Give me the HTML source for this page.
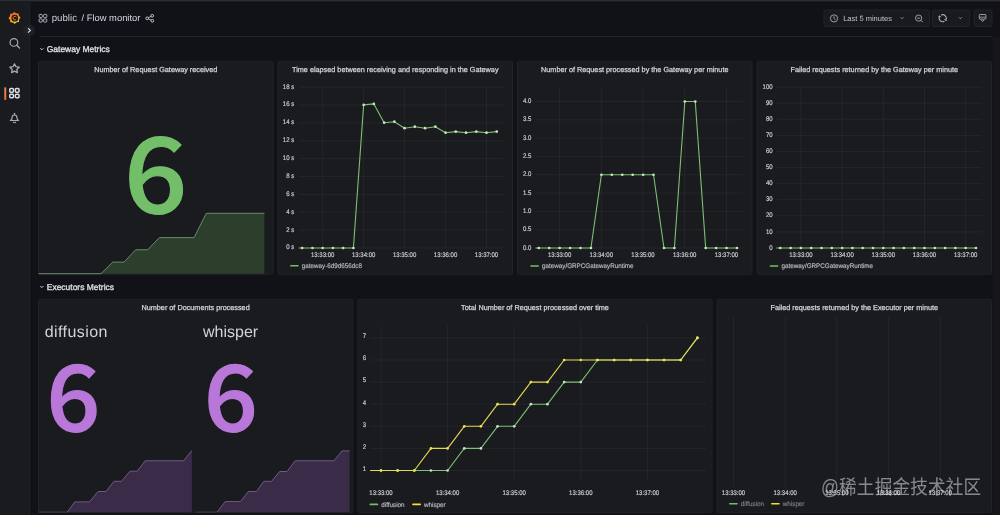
<!DOCTYPE html>
<html><head><meta charset="utf-8"><title>Flow monitor - Grafana</title>
<style>
html,body{margin:0;padding:0;background:#111217;width:1000px;height:515px;overflow:hidden}
svg{position:absolute;left:0;top:0;display:block;font-family:"Liberation Sans", Arial, sans-serif;text-rendering:geometricPrecision}
.stat{position:absolute;font-family:"Liberation Sans", Arial, sans-serif;white-space:nowrap}
.wm{position:absolute;left:821px;top:473.9px;font-family:"Liberation Sans","Noto Sans CJK SC",sans-serif;font-size:17.6px;line-height:25px;color:rgba(225,225,230,0.55);white-space:nowrap;letter-spacing:0.2px;transform:scaleY(1.12);transform-origin:0 5.4px}
</style></head>
<body>
<svg width="1000" height="515" viewBox="0 0 1000 515">
<rect x="0.00" y="0.00" width="1000.00" height="515.00" fill="#111217" />
<rect x="0.00" y="0.00" width="1000.00" height="1.10" fill="#2c2d32" />
<rect x="0.00" y="1.10" width="1000.00" height="0.80" fill="#1f2025" />
<rect x="992.50" y="37.00" width="7.50" height="515.00" fill="#16171b" />
<rect x="0.00" y="1.90" width="29.30" height="515.00" fill="#1a1b1f" />
<rect x="29.30" y="1.90" width="0.90" height="515.00" fill="#24252a" />
<rect x="38.50" y="61.30" width="234.50" height="213.00" fill="#1a1b1f" stroke="#212226" stroke-width="1" rx="1.5"/>
<rect x="278.00" y="61.30" width="234.50" height="213.00" fill="#1a1b1f" stroke="#212226" stroke-width="1" rx="1.5"/>
<rect x="517.50" y="61.30" width="234.50" height="213.00" fill="#1a1b1f" stroke="#212226" stroke-width="1" rx="1.5"/>
<rect x="757.01" y="61.30" width="234.50" height="213.00" fill="#1a1b1f" stroke="#212226" stroke-width="1" rx="1.5"/>
<rect x="38.50" y="299.30" width="314.34" height="213.40" fill="#1a1b1f" stroke="#212226" stroke-width="1" rx="1.5"/>
<rect x="357.84" y="299.30" width="354.25" height="213.40" fill="#1a1b1f" stroke="#212226" stroke-width="1" rx="1.5"/>
<rect x="717.09" y="299.30" width="274.42" height="213.40" fill="#1a1b1f" stroke="#212226" stroke-width="1" rx="1.5"/>
<rect x="39.80" y="36.10" width="952.00" height="0.90" fill="#25272b" />
<polygon points="38.50,273.70 101.00,273.70 112.80,262.10 124.20,262.10 135.60,249.80 147.60,249.80 159.40,237.60 194.10,237.60 206.30,213.30 264.40,213.30 264.40,273.70" fill="#2c3e2c"/>
<polyline points="38.50,273.70 101.00,273.70 112.80,262.10 124.20,262.10 135.60,249.80 147.60,249.80 159.40,237.60 194.10,237.60 206.30,213.30 264.40,213.30" stroke="#6a8a66" stroke-width="1.0" fill="none" stroke-linejoin="round" />
<text x="0" y="0" font-size="104.72" fill="#73bf69" stroke="#73bf69" stroke-width="1.2" stroke-linejoin="round" font-weight="500" font-family="Noto Sans CJK JP, Liberation Sans, sans-serif" transform="translate(124.12 213.04) scale(1.06 1)">6</text>
<polygon points="38.50,512.00 67.30,512.00 74.80,501.90 89.50,501.90 98.00,491.50 106.00,491.50 114.00,481.30 121.50,481.30 130.00,471.20 137.20,471.20 145.20,460.80 183.60,460.80 191.90,450.40 191.90,512.30 38.50,512.30" fill="#3a2c48"/>
<polyline points="38.50,512.00 67.30,512.00" stroke="#3c3b43" stroke-width="1.0" fill="none" stroke-linejoin="round" />
<polyline points="67.30,512.00 74.80,501.90 89.50,501.90 98.00,491.50 106.00,491.50 114.00,481.30 121.50,481.30 130.00,471.20 137.20,471.20 145.20,460.80 183.60,460.80 191.90,450.40" stroke="#6e5a84" stroke-width="1.0" fill="none" stroke-linejoin="round" />
<polygon points="195.90,512.00 217.20,512.00 225.20,501.60 240.40,501.60 248.40,491.50 256.40,491.50 263.90,481.30 271.60,481.30 279.60,471.50 287.10,471.50 295.10,460.80 334.00,460.80 342.00,450.90 349.50,450.90 349.50,512.30 195.90,512.30" fill="#3a2c48"/>
<polyline points="195.90,512.00 217.20,512.00" stroke="#3c3b43" stroke-width="1.0" fill="none" stroke-linejoin="round" />
<polyline points="217.20,512.00 225.20,501.60 240.40,501.60 248.40,491.50 256.40,491.50 263.90,481.30 271.60,481.30 279.60,471.50 287.10,471.50 295.10,460.80 334.00,460.80 342.00,450.90 349.50,450.90" stroke="#6e5a84" stroke-width="1.0" fill="none" stroke-linejoin="round" />
<text x="0" y="0" font-size="91.35" fill="#b877d9" stroke="#b877d9" stroke-width="1.2" stroke-linejoin="round" font-weight="500" font-family="Noto Sans CJK JP, Liberation Sans, sans-serif" transform="translate(46.41 431.11) scale(1.03 1)">6</text>
<text x="0" y="0" font-size="91.35" fill="#b877d9" stroke="#b877d9" stroke-width="1.2" stroke-linejoin="round" font-weight="500" font-family="Noto Sans CJK JP, Liberation Sans, sans-serif" transform="translate(203.91 431.11) scale(1.03 1)">6</text>
<text x="44.73" y="337.00" font-size="16" fill="#d2d2da" text-anchor="start" font-weight="normal" letter-spacing="0.42">diffusion</text>
<text x="203.00" y="337.00" font-size="16" fill="#d2d2da" text-anchor="start" font-weight="normal" >whisper</text>
<line x1="298.80" y1="248.00" x2="503.70" y2="248.00" stroke="#2a2d31" stroke-width="0.6" />
<line x1="298.80" y1="230.13" x2="503.70" y2="230.13" stroke="#2a2d31" stroke-width="0.6" />
<line x1="298.80" y1="212.27" x2="503.70" y2="212.27" stroke="#2a2d31" stroke-width="0.6" />
<line x1="298.80" y1="194.40" x2="503.70" y2="194.40" stroke="#2a2d31" stroke-width="0.6" />
<line x1="298.80" y1="176.53" x2="503.70" y2="176.53" stroke="#2a2d31" stroke-width="0.6" />
<line x1="298.80" y1="158.67" x2="503.70" y2="158.67" stroke="#2a2d31" stroke-width="0.6" />
<line x1="298.80" y1="140.80" x2="503.70" y2="140.80" stroke="#2a2d31" stroke-width="0.6" />
<line x1="298.80" y1="122.93" x2="503.70" y2="122.93" stroke="#2a2d31" stroke-width="0.6" />
<line x1="298.80" y1="105.07" x2="503.70" y2="105.07" stroke="#2a2d31" stroke-width="0.6" />
<line x1="298.80" y1="87.20" x2="503.70" y2="87.20" stroke="#2a2d31" stroke-width="0.6" />
<line x1="322.70" y1="87.50" x2="322.70" y2="248.00" stroke="#2a2d31" stroke-width="0.6" />
<line x1="363.65" y1="87.50" x2="363.65" y2="248.00" stroke="#2a2d31" stroke-width="0.6" />
<line x1="404.60" y1="87.50" x2="404.60" y2="248.00" stroke="#2a2d31" stroke-width="0.6" />
<line x1="445.55" y1="87.50" x2="445.55" y2="248.00" stroke="#2a2d31" stroke-width="0.6" />
<line x1="486.50" y1="87.50" x2="486.50" y2="248.00" stroke="#2a2d31" stroke-width="0.6" />
<text x="0" y="0" font-size="6.7" fill="#cdcdd7" stroke="#cdcdd7" stroke-width="0.18" text-anchor="end" transform="translate(294.20 249.40) scale(0.9 1)" >0 s</text>
<text x="0" y="0" font-size="6.7" fill="#cdcdd7" stroke="#cdcdd7" stroke-width="0.18" text-anchor="end" transform="translate(294.20 231.53) scale(0.9 1)" >2 s</text>
<text x="0" y="0" font-size="6.7" fill="#cdcdd7" stroke="#cdcdd7" stroke-width="0.18" text-anchor="end" transform="translate(294.20 213.67) scale(0.9 1)" >4 s</text>
<text x="0" y="0" font-size="6.7" fill="#cdcdd7" stroke="#cdcdd7" stroke-width="0.18" text-anchor="end" transform="translate(294.20 195.80) scale(0.9 1)" >6 s</text>
<text x="0" y="0" font-size="6.7" fill="#cdcdd7" stroke="#cdcdd7" stroke-width="0.18" text-anchor="end" transform="translate(294.20 177.93) scale(0.9 1)" >8 s</text>
<text x="0" y="0" font-size="6.7" fill="#cdcdd7" stroke="#cdcdd7" stroke-width="0.18" text-anchor="end" transform="translate(294.20 160.07) scale(0.9 1)" >10 s</text>
<text x="0" y="0" font-size="6.7" fill="#cdcdd7" stroke="#cdcdd7" stroke-width="0.18" text-anchor="end" transform="translate(294.20 142.20) scale(0.9 1)" >12 s</text>
<text x="0" y="0" font-size="6.7" fill="#cdcdd7" stroke="#cdcdd7" stroke-width="0.18" text-anchor="end" transform="translate(294.20 124.33) scale(0.9 1)" >14 s</text>
<text x="0" y="0" font-size="6.7" fill="#cdcdd7" stroke="#cdcdd7" stroke-width="0.18" text-anchor="end" transform="translate(294.20 106.47) scale(0.9 1)" >16 s</text>
<text x="0" y="0" font-size="6.7" fill="#cdcdd7" stroke="#cdcdd7" stroke-width="0.18" text-anchor="end" transform="translate(294.20 88.60) scale(0.9 1)" >18 s</text>
<text x="0" y="0" font-size="6.7" fill="#cdcdd7" stroke="#cdcdd7" stroke-width="0.18" text-anchor="middle" transform="translate(322.70 257.20) scale(0.9 1)" >13:33:00</text>
<text x="0" y="0" font-size="6.7" fill="#cdcdd7" stroke="#cdcdd7" stroke-width="0.18" text-anchor="middle" transform="translate(363.65 257.20) scale(0.9 1)" >13:34:00</text>
<text x="0" y="0" font-size="6.7" fill="#cdcdd7" stroke="#cdcdd7" stroke-width="0.18" text-anchor="middle" transform="translate(404.60 257.20) scale(0.9 1)" >13:35:00</text>
<text x="0" y="0" font-size="6.7" fill="#cdcdd7" stroke="#cdcdd7" stroke-width="0.18" text-anchor="middle" transform="translate(445.55 257.20) scale(0.9 1)" >13:36:00</text>
<text x="0" y="0" font-size="6.7" fill="#cdcdd7" stroke="#cdcdd7" stroke-width="0.18" text-anchor="middle" transform="translate(486.50 257.20) scale(0.9 1)" >13:37:00</text>
<polyline points="298.80,248.00 302.20,248.00 312.44,248.00 322.68,248.00 332.92,248.00 343.16,248.00 353.40,248.00 363.64,104.90 373.88,103.90 384.12,122.70 394.36,121.70 404.60,128.20 414.84,126.70 425.08,128.20 435.32,126.70 445.56,132.70 455.80,131.60 466.04,132.70 476.28,131.60 486.52,132.70 496.76,131.60" stroke="#7cc072" stroke-width="1.1" fill="none" stroke-linejoin="round" />
<circle cx="302.20" cy="248.00" r="1.35" fill="#c6e4bf"/>
<circle cx="312.44" cy="248.00" r="1.35" fill="#c6e4bf"/>
<circle cx="322.68" cy="248.00" r="1.35" fill="#c6e4bf"/>
<circle cx="332.92" cy="248.00" r="1.35" fill="#c6e4bf"/>
<circle cx="343.16" cy="248.00" r="1.35" fill="#c6e4bf"/>
<circle cx="353.40" cy="248.00" r="1.35" fill="#c6e4bf"/>
<circle cx="363.64" cy="104.90" r="1.35" fill="#c6e4bf"/>
<circle cx="373.88" cy="103.90" r="1.35" fill="#c6e4bf"/>
<circle cx="384.12" cy="122.70" r="1.35" fill="#c6e4bf"/>
<circle cx="394.36" cy="121.70" r="1.35" fill="#c6e4bf"/>
<circle cx="404.60" cy="128.20" r="1.35" fill="#c6e4bf"/>
<circle cx="414.84" cy="126.70" r="1.35" fill="#c6e4bf"/>
<circle cx="425.08" cy="128.20" r="1.35" fill="#c6e4bf"/>
<circle cx="435.32" cy="126.70" r="1.35" fill="#c6e4bf"/>
<circle cx="445.56" cy="132.70" r="1.35" fill="#c6e4bf"/>
<circle cx="455.80" cy="131.60" r="1.35" fill="#c6e4bf"/>
<circle cx="466.04" cy="132.70" r="1.35" fill="#c6e4bf"/>
<circle cx="476.28" cy="131.60" r="1.35" fill="#c6e4bf"/>
<circle cx="486.52" cy="132.70" r="1.35" fill="#c6e4bf"/>
<circle cx="496.76" cy="131.60" r="1.35" fill="#c6e4bf"/>
<line x1="290.80" y1="265.80" x2="298.00" y2="265.80" stroke="#73bf69" stroke-width="1.6" stroke-linecap="round"/>
<text x="0" y="0" font-size="6.7" fill="#b8b8c4" stroke="#b8b8c4" stroke-width="0.18" text-anchor="start" transform="translate(301.80 268.10) scale(0.94 1)" >gateway-6d9d656dc8</text>
<line x1="535.50" y1="248.00" x2="742.70" y2="248.00" stroke="#2a2d31" stroke-width="0.6" />
<line x1="535.50" y1="229.69" x2="742.70" y2="229.69" stroke="#2a2d31" stroke-width="0.6" />
<line x1="535.50" y1="211.38" x2="742.70" y2="211.38" stroke="#2a2d31" stroke-width="0.6" />
<line x1="535.50" y1="193.06" x2="742.70" y2="193.06" stroke="#2a2d31" stroke-width="0.6" />
<line x1="535.50" y1="174.75" x2="742.70" y2="174.75" stroke="#2a2d31" stroke-width="0.6" />
<line x1="535.50" y1="156.44" x2="742.70" y2="156.44" stroke="#2a2d31" stroke-width="0.6" />
<line x1="535.50" y1="138.12" x2="742.70" y2="138.12" stroke="#2a2d31" stroke-width="0.6" />
<line x1="535.50" y1="119.81" x2="742.70" y2="119.81" stroke="#2a2d31" stroke-width="0.6" />
<line x1="535.50" y1="101.50" x2="742.70" y2="101.50" stroke="#2a2d31" stroke-width="0.6" />
<line x1="559.60" y1="87.50" x2="559.60" y2="248.00" stroke="#2a2d31" stroke-width="0.6" />
<line x1="601.30" y1="87.50" x2="601.30" y2="248.00" stroke="#2a2d31" stroke-width="0.6" />
<line x1="643.00" y1="87.50" x2="643.00" y2="248.00" stroke="#2a2d31" stroke-width="0.6" />
<line x1="684.70" y1="87.50" x2="684.70" y2="248.00" stroke="#2a2d31" stroke-width="0.6" />
<line x1="726.40" y1="87.50" x2="726.40" y2="248.00" stroke="#2a2d31" stroke-width="0.6" />
<text x="0" y="0" font-size="6.7" fill="#cdcdd7" stroke="#cdcdd7" stroke-width="0.18" text-anchor="end" transform="translate(531.30 249.60) scale(0.9 1)" >0.0</text>
<text x="0" y="0" font-size="6.7" fill="#cdcdd7" stroke="#cdcdd7" stroke-width="0.18" text-anchor="end" transform="translate(531.30 231.29) scale(0.9 1)" >0.5</text>
<text x="0" y="0" font-size="6.7" fill="#cdcdd7" stroke="#cdcdd7" stroke-width="0.18" text-anchor="end" transform="translate(531.30 212.98) scale(0.9 1)" >1.0</text>
<text x="0" y="0" font-size="6.7" fill="#cdcdd7" stroke="#cdcdd7" stroke-width="0.18" text-anchor="end" transform="translate(531.30 194.66) scale(0.9 1)" >1.5</text>
<text x="0" y="0" font-size="6.7" fill="#cdcdd7" stroke="#cdcdd7" stroke-width="0.18" text-anchor="end" transform="translate(531.30 176.35) scale(0.9 1)" >2.0</text>
<text x="0" y="0" font-size="6.7" fill="#cdcdd7" stroke="#cdcdd7" stroke-width="0.18" text-anchor="end" transform="translate(531.30 158.04) scale(0.9 1)" >2.5</text>
<text x="0" y="0" font-size="6.7" fill="#cdcdd7" stroke="#cdcdd7" stroke-width="0.18" text-anchor="end" transform="translate(531.30 139.73) scale(0.9 1)" >3.0</text>
<text x="0" y="0" font-size="6.7" fill="#cdcdd7" stroke="#cdcdd7" stroke-width="0.18" text-anchor="end" transform="translate(531.30 121.41) scale(0.9 1)" >3.5</text>
<text x="0" y="0" font-size="6.7" fill="#cdcdd7" stroke="#cdcdd7" stroke-width="0.18" text-anchor="end" transform="translate(531.30 103.10) scale(0.9 1)" >4.0</text>
<text x="0" y="0" font-size="6.7" fill="#cdcdd7" stroke="#cdcdd7" stroke-width="0.18" text-anchor="middle" transform="translate(559.60 257.20) scale(0.9 1)" >13:33:00</text>
<text x="0" y="0" font-size="6.7" fill="#cdcdd7" stroke="#cdcdd7" stroke-width="0.18" text-anchor="middle" transform="translate(601.30 257.20) scale(0.9 1)" >13:34:00</text>
<text x="0" y="0" font-size="6.7" fill="#cdcdd7" stroke="#cdcdd7" stroke-width="0.18" text-anchor="middle" transform="translate(643.00 257.20) scale(0.9 1)" >13:35:00</text>
<text x="0" y="0" font-size="6.7" fill="#cdcdd7" stroke="#cdcdd7" stroke-width="0.18" text-anchor="middle" transform="translate(684.70 257.20) scale(0.9 1)" >13:36:00</text>
<text x="0" y="0" font-size="6.7" fill="#cdcdd7" stroke="#cdcdd7" stroke-width="0.18" text-anchor="middle" transform="translate(726.40 257.20) scale(0.9 1)" >13:37:00</text>
<polyline points="535.50,248.00 538.80,248.00 549.23,248.00 559.66,248.00 570.09,248.00 580.52,248.00 590.95,248.00 601.38,174.75 611.81,174.75 622.24,174.75 632.67,174.75 643.10,174.75 653.53,174.75 663.96,248.00 674.39,248.00 684.82,101.50 695.25,101.50 705.68,248.00 716.11,248.00 726.54,248.00 736.97,248.00" stroke="#7cc072" stroke-width="1.1" fill="none" stroke-linejoin="round" />
<circle cx="538.80" cy="248.00" r="1.35" fill="#c6e4bf"/>
<circle cx="549.23" cy="248.00" r="1.35" fill="#c6e4bf"/>
<circle cx="559.66" cy="248.00" r="1.35" fill="#c6e4bf"/>
<circle cx="570.09" cy="248.00" r="1.35" fill="#c6e4bf"/>
<circle cx="580.52" cy="248.00" r="1.35" fill="#c6e4bf"/>
<circle cx="590.95" cy="248.00" r="1.35" fill="#c6e4bf"/>
<circle cx="601.38" cy="174.75" r="1.35" fill="#c6e4bf"/>
<circle cx="611.81" cy="174.75" r="1.35" fill="#c6e4bf"/>
<circle cx="622.24" cy="174.75" r="1.35" fill="#c6e4bf"/>
<circle cx="632.67" cy="174.75" r="1.35" fill="#c6e4bf"/>
<circle cx="643.10" cy="174.75" r="1.35" fill="#c6e4bf"/>
<circle cx="653.53" cy="174.75" r="1.35" fill="#c6e4bf"/>
<circle cx="663.96" cy="248.00" r="1.35" fill="#c6e4bf"/>
<circle cx="674.39" cy="248.00" r="1.35" fill="#c6e4bf"/>
<circle cx="684.82" cy="101.50" r="1.35" fill="#c6e4bf"/>
<circle cx="695.25" cy="101.50" r="1.35" fill="#c6e4bf"/>
<circle cx="705.68" cy="248.00" r="1.35" fill="#c6e4bf"/>
<circle cx="716.11" cy="248.00" r="1.35" fill="#c6e4bf"/>
<circle cx="726.54" cy="248.00" r="1.35" fill="#c6e4bf"/>
<circle cx="736.97" cy="248.00" r="1.35" fill="#c6e4bf"/>
<line x1="531.00" y1="266.00" x2="538.20" y2="266.00" stroke="#73bf69" stroke-width="1.6" stroke-linecap="round"/>
<text x="0" y="0" font-size="6.7" fill="#b8b8c4" stroke="#b8b8c4" stroke-width="0.18" text-anchor="start" transform="translate(542.00 268.30) scale(0.94 1)" >gateway/GRPCGatewayRuntime</text>
<line x1="776.40" y1="248.00" x2="982.00" y2="248.00" stroke="#2a2d31" stroke-width="0.6" />
<line x1="776.40" y1="231.91" x2="982.00" y2="231.91" stroke="#2a2d31" stroke-width="0.6" />
<line x1="776.40" y1="215.82" x2="982.00" y2="215.82" stroke="#2a2d31" stroke-width="0.6" />
<line x1="776.40" y1="199.73" x2="982.00" y2="199.73" stroke="#2a2d31" stroke-width="0.6" />
<line x1="776.40" y1="183.64" x2="982.00" y2="183.64" stroke="#2a2d31" stroke-width="0.6" />
<line x1="776.40" y1="167.55" x2="982.00" y2="167.55" stroke="#2a2d31" stroke-width="0.6" />
<line x1="776.40" y1="151.46" x2="982.00" y2="151.46" stroke="#2a2d31" stroke-width="0.6" />
<line x1="776.40" y1="135.37" x2="982.00" y2="135.37" stroke="#2a2d31" stroke-width="0.6" />
<line x1="776.40" y1="119.28" x2="982.00" y2="119.28" stroke="#2a2d31" stroke-width="0.6" />
<line x1="776.40" y1="103.19" x2="982.00" y2="103.19" stroke="#2a2d31" stroke-width="0.6" />
<line x1="776.40" y1="87.10" x2="982.00" y2="87.10" stroke="#2a2d31" stroke-width="0.6" />
<line x1="800.90" y1="87.50" x2="800.90" y2="248.00" stroke="#2a2d31" stroke-width="0.6" />
<line x1="842.10" y1="87.50" x2="842.10" y2="248.00" stroke="#2a2d31" stroke-width="0.6" />
<line x1="883.30" y1="87.50" x2="883.30" y2="248.00" stroke="#2a2d31" stroke-width="0.6" />
<line x1="924.50" y1="87.50" x2="924.50" y2="248.00" stroke="#2a2d31" stroke-width="0.6" />
<line x1="965.70" y1="87.50" x2="965.70" y2="248.00" stroke="#2a2d31" stroke-width="0.6" />
<text x="0" y="0" font-size="6.7" fill="#cdcdd7" stroke="#cdcdd7" stroke-width="0.18" text-anchor="end" transform="translate(772.60 249.60) scale(0.9 1)" >0</text>
<text x="0" y="0" font-size="6.7" fill="#cdcdd7" stroke="#cdcdd7" stroke-width="0.18" text-anchor="end" transform="translate(772.60 233.51) scale(0.9 1)" >10</text>
<text x="0" y="0" font-size="6.7" fill="#cdcdd7" stroke="#cdcdd7" stroke-width="0.18" text-anchor="end" transform="translate(772.60 217.42) scale(0.9 1)" >20</text>
<text x="0" y="0" font-size="6.7" fill="#cdcdd7" stroke="#cdcdd7" stroke-width="0.18" text-anchor="end" transform="translate(772.60 201.33) scale(0.9 1)" >30</text>
<text x="0" y="0" font-size="6.7" fill="#cdcdd7" stroke="#cdcdd7" stroke-width="0.18" text-anchor="end" transform="translate(772.60 185.24) scale(0.9 1)" >40</text>
<text x="0" y="0" font-size="6.7" fill="#cdcdd7" stroke="#cdcdd7" stroke-width="0.18" text-anchor="end" transform="translate(772.60 169.15) scale(0.9 1)" >50</text>
<text x="0" y="0" font-size="6.7" fill="#cdcdd7" stroke="#cdcdd7" stroke-width="0.18" text-anchor="end" transform="translate(772.60 153.06) scale(0.9 1)" >60</text>
<text x="0" y="0" font-size="6.7" fill="#cdcdd7" stroke="#cdcdd7" stroke-width="0.18" text-anchor="end" transform="translate(772.60 136.97) scale(0.9 1)" >70</text>
<text x="0" y="0" font-size="6.7" fill="#cdcdd7" stroke="#cdcdd7" stroke-width="0.18" text-anchor="end" transform="translate(772.60 120.88) scale(0.9 1)" >80</text>
<text x="0" y="0" font-size="6.7" fill="#cdcdd7" stroke="#cdcdd7" stroke-width="0.18" text-anchor="end" transform="translate(772.60 104.79) scale(0.9 1)" >90</text>
<text x="0" y="0" font-size="6.7" fill="#cdcdd7" stroke="#cdcdd7" stroke-width="0.18" text-anchor="end" transform="translate(772.60 88.70) scale(0.9 1)" >100</text>
<text x="0" y="0" font-size="6.7" fill="#cdcdd7" stroke="#cdcdd7" stroke-width="0.18" text-anchor="middle" transform="translate(800.90 257.20) scale(0.9 1)" >13:33:00</text>
<text x="0" y="0" font-size="6.7" fill="#cdcdd7" stroke="#cdcdd7" stroke-width="0.18" text-anchor="middle" transform="translate(842.10 257.20) scale(0.9 1)" >13:34:00</text>
<text x="0" y="0" font-size="6.7" fill="#cdcdd7" stroke="#cdcdd7" stroke-width="0.18" text-anchor="middle" transform="translate(883.30 257.20) scale(0.9 1)" >13:35:00</text>
<text x="0" y="0" font-size="6.7" fill="#cdcdd7" stroke="#cdcdd7" stroke-width="0.18" text-anchor="middle" transform="translate(924.50 257.20) scale(0.9 1)" >13:36:00</text>
<text x="0" y="0" font-size="6.7" fill="#cdcdd7" stroke="#cdcdd7" stroke-width="0.18" text-anchor="middle" transform="translate(965.70 257.20) scale(0.9 1)" >13:37:00</text>
<polyline points="776.40,248.00 780.30,248.00 790.60,248.00 800.90,248.00 811.20,248.00 821.50,248.00 831.80,248.00 842.10,248.00 852.40,248.00 862.70,248.00 873.00,248.00 883.30,248.00 893.60,248.00 903.90,248.00 914.20,248.00 924.50,248.00 934.80,248.00 945.10,248.00 955.40,248.00 965.70,248.00 976.00,248.00" stroke="#7cc072" stroke-width="1.1" fill="none" stroke-linejoin="round" />
<circle cx="780.30" cy="248.00" r="1.35" fill="#c6e4bf"/>
<circle cx="790.60" cy="248.00" r="1.35" fill="#c6e4bf"/>
<circle cx="800.90" cy="248.00" r="1.35" fill="#c6e4bf"/>
<circle cx="811.20" cy="248.00" r="1.35" fill="#c6e4bf"/>
<circle cx="821.50" cy="248.00" r="1.35" fill="#c6e4bf"/>
<circle cx="831.80" cy="248.00" r="1.35" fill="#c6e4bf"/>
<circle cx="842.10" cy="248.00" r="1.35" fill="#c6e4bf"/>
<circle cx="852.40" cy="248.00" r="1.35" fill="#c6e4bf"/>
<circle cx="862.70" cy="248.00" r="1.35" fill="#c6e4bf"/>
<circle cx="873.00" cy="248.00" r="1.35" fill="#c6e4bf"/>
<circle cx="883.30" cy="248.00" r="1.35" fill="#c6e4bf"/>
<circle cx="893.60" cy="248.00" r="1.35" fill="#c6e4bf"/>
<circle cx="903.90" cy="248.00" r="1.35" fill="#c6e4bf"/>
<circle cx="914.20" cy="248.00" r="1.35" fill="#c6e4bf"/>
<circle cx="924.50" cy="248.00" r="1.35" fill="#c6e4bf"/>
<circle cx="934.80" cy="248.00" r="1.35" fill="#c6e4bf"/>
<circle cx="945.10" cy="248.00" r="1.35" fill="#c6e4bf"/>
<circle cx="955.40" cy="248.00" r="1.35" fill="#c6e4bf"/>
<circle cx="965.70" cy="248.00" r="1.35" fill="#c6e4bf"/>
<circle cx="976.00" cy="248.00" r="1.35" fill="#c6e4bf"/>
<line x1="770.50" y1="266.00" x2="777.70" y2="266.00" stroke="#73bf69" stroke-width="1.6" stroke-linecap="round"/>
<text x="0" y="0" font-size="6.7" fill="#b8b8c4" stroke="#b8b8c4" stroke-width="0.18" text-anchor="start" transform="translate(781.50 268.30) scale(0.94 1)" >gateway/GRPCGatewayRuntime</text>
<line x1="370.30" y1="470.50" x2="706.00" y2="470.50" stroke="#2a2d31" stroke-width="0.6" />
<line x1="370.30" y1="448.40" x2="706.00" y2="448.40" stroke="#2a2d31" stroke-width="0.6" />
<line x1="370.30" y1="426.30" x2="706.00" y2="426.30" stroke="#2a2d31" stroke-width="0.6" />
<line x1="370.30" y1="404.20" x2="706.00" y2="404.20" stroke="#2a2d31" stroke-width="0.6" />
<line x1="370.30" y1="382.10" x2="706.00" y2="382.10" stroke="#2a2d31" stroke-width="0.6" />
<line x1="370.30" y1="360.00" x2="706.00" y2="360.00" stroke="#2a2d31" stroke-width="0.6" />
<line x1="370.30" y1="337.90" x2="706.00" y2="337.90" stroke="#2a2d31" stroke-width="0.6" />
<line x1="381.00" y1="325.40" x2="381.00" y2="481.50" stroke="#2a2d31" stroke-width="0.6" />
<line x1="447.60" y1="325.40" x2="447.60" y2="481.50" stroke="#2a2d31" stroke-width="0.6" />
<line x1="514.20" y1="325.40" x2="514.20" y2="481.50" stroke="#2a2d31" stroke-width="0.6" />
<line x1="580.80" y1="325.40" x2="580.80" y2="481.50" stroke="#2a2d31" stroke-width="0.6" />
<line x1="647.40" y1="325.40" x2="647.40" y2="481.50" stroke="#2a2d31" stroke-width="0.6" />
<text x="0" y="0" font-size="6.7" fill="#cdcdd7" stroke="#cdcdd7" stroke-width="0.18" text-anchor="end" transform="translate(366.00 470.80) scale(0.9 1)" >1</text>
<text x="0" y="0" font-size="6.7" fill="#cdcdd7" stroke="#cdcdd7" stroke-width="0.18" text-anchor="end" transform="translate(366.00 448.70) scale(0.9 1)" >2</text>
<text x="0" y="0" font-size="6.7" fill="#cdcdd7" stroke="#cdcdd7" stroke-width="0.18" text-anchor="end" transform="translate(366.00 426.60) scale(0.9 1)" >3</text>
<text x="0" y="0" font-size="6.7" fill="#cdcdd7" stroke="#cdcdd7" stroke-width="0.18" text-anchor="end" transform="translate(366.00 404.50) scale(0.9 1)" >4</text>
<text x="0" y="0" font-size="6.7" fill="#cdcdd7" stroke="#cdcdd7" stroke-width="0.18" text-anchor="end" transform="translate(366.00 382.40) scale(0.9 1)" >5</text>
<text x="0" y="0" font-size="6.7" fill="#cdcdd7" stroke="#cdcdd7" stroke-width="0.18" text-anchor="end" transform="translate(366.00 360.30) scale(0.9 1)" >6</text>
<text x="0" y="0" font-size="6.7" fill="#cdcdd7" stroke="#cdcdd7" stroke-width="0.18" text-anchor="end" transform="translate(366.00 338.20) scale(0.9 1)" >7</text>
<text x="0" y="0" font-size="6.7" fill="#cdcdd7" stroke="#cdcdd7" stroke-width="0.18" text-anchor="middle" transform="translate(381.00 495.30) scale(0.9 1)" >13:33:00</text>
<text x="0" y="0" font-size="6.7" fill="#cdcdd7" stroke="#cdcdd7" stroke-width="0.18" text-anchor="middle" transform="translate(447.60 495.30) scale(0.9 1)" >13:34:00</text>
<text x="0" y="0" font-size="6.7" fill="#cdcdd7" stroke="#cdcdd7" stroke-width="0.18" text-anchor="middle" transform="translate(514.20 495.30) scale(0.9 1)" >13:35:00</text>
<text x="0" y="0" font-size="6.7" fill="#cdcdd7" stroke="#cdcdd7" stroke-width="0.18" text-anchor="middle" transform="translate(580.80 495.30) scale(0.9 1)" >13:36:00</text>
<text x="0" y="0" font-size="6.7" fill="#cdcdd7" stroke="#cdcdd7" stroke-width="0.18" text-anchor="middle" transform="translate(647.40 495.30) scale(0.9 1)" >13:37:00</text>
<polyline points="370.30,470.50 381.00,470.50 397.65,470.50 414.30,470.50 430.95,470.50 447.60,470.50 464.25,448.40 480.90,448.40 497.55,426.30 514.20,426.30 530.85,404.20 547.50,404.20 564.15,382.10 580.80,382.10 597.45,360.00 614.10,360.00 630.75,360.00 647.40,360.00 664.05,360.00 680.70,360.00 697.35,337.90" stroke="#7cc072" stroke-width="1.1" fill="none" stroke-linejoin="round" />
<circle cx="381.00" cy="470.50" r="1.35" fill="#c6e4bf"/>
<circle cx="397.65" cy="470.50" r="1.35" fill="#c6e4bf"/>
<circle cx="414.30" cy="470.50" r="1.35" fill="#c6e4bf"/>
<circle cx="430.95" cy="470.50" r="1.35" fill="#c6e4bf"/>
<circle cx="447.60" cy="470.50" r="1.35" fill="#c6e4bf"/>
<circle cx="464.25" cy="448.40" r="1.35" fill="#c6e4bf"/>
<circle cx="480.90" cy="448.40" r="1.35" fill="#c6e4bf"/>
<circle cx="497.55" cy="426.30" r="1.35" fill="#c6e4bf"/>
<circle cx="514.20" cy="426.30" r="1.35" fill="#c6e4bf"/>
<circle cx="530.85" cy="404.20" r="1.35" fill="#c6e4bf"/>
<circle cx="547.50" cy="404.20" r="1.35" fill="#c6e4bf"/>
<circle cx="564.15" cy="382.10" r="1.35" fill="#c6e4bf"/>
<circle cx="580.80" cy="382.10" r="1.35" fill="#c6e4bf"/>
<circle cx="597.45" cy="360.00" r="1.35" fill="#c6e4bf"/>
<circle cx="614.10" cy="360.00" r="1.35" fill="#c6e4bf"/>
<circle cx="630.75" cy="360.00" r="1.35" fill="#c6e4bf"/>
<circle cx="647.40" cy="360.00" r="1.35" fill="#c6e4bf"/>
<circle cx="664.05" cy="360.00" r="1.35" fill="#c6e4bf"/>
<circle cx="680.70" cy="360.00" r="1.35" fill="#c6e4bf"/>
<circle cx="697.35" cy="337.90" r="1.35" fill="#c6e4bf"/>
<polyline points="370.30,470.50 381.00,470.50 397.65,470.50 414.30,470.50 430.95,448.40 447.60,448.40 464.25,426.30 480.90,426.30 497.55,404.20 514.20,404.20 530.85,382.10 547.50,382.10 564.15,360.00 580.80,360.00 597.45,360.00 614.10,360.00 630.75,360.00 647.40,360.00 664.05,360.00 680.70,360.00 697.35,337.90" stroke="#e6d655" stroke-width="1.1" fill="none" stroke-linejoin="round" />
<circle cx="381.00" cy="470.50" r="1.35" fill="#f0e24a"/>
<circle cx="397.65" cy="470.50" r="1.35" fill="#f0e24a"/>
<circle cx="414.30" cy="470.50" r="1.35" fill="#f0e24a"/>
<circle cx="430.95" cy="448.40" r="1.35" fill="#f0e24a"/>
<circle cx="447.60" cy="448.40" r="1.35" fill="#f0e24a"/>
<circle cx="464.25" cy="426.30" r="1.35" fill="#f0e24a"/>
<circle cx="480.90" cy="426.30" r="1.35" fill="#f0e24a"/>
<circle cx="497.55" cy="404.20" r="1.35" fill="#f0e24a"/>
<circle cx="514.20" cy="404.20" r="1.35" fill="#f0e24a"/>
<circle cx="530.85" cy="382.10" r="1.35" fill="#f0e24a"/>
<circle cx="547.50" cy="382.10" r="1.35" fill="#f0e24a"/>
<circle cx="564.15" cy="360.00" r="1.35" fill="#f0e24a"/>
<circle cx="580.80" cy="360.00" r="1.35" fill="#f0e24a"/>
<circle cx="597.45" cy="360.00" r="1.35" fill="#f0e24a"/>
<circle cx="614.10" cy="360.00" r="1.35" fill="#f0e24a"/>
<circle cx="630.75" cy="360.00" r="1.35" fill="#f0e24a"/>
<circle cx="647.40" cy="360.00" r="1.35" fill="#f0e24a"/>
<circle cx="664.05" cy="360.00" r="1.35" fill="#f0e24a"/>
<circle cx="680.70" cy="360.00" r="1.35" fill="#f0e24a"/>
<circle cx="697.35" cy="337.90" r="1.35" fill="#f0e24a"/>
<line x1="370.30" y1="504.40" x2="377.50" y2="504.40" stroke="#73bf69" stroke-width="1.6" stroke-linecap="round"/>
<text x="0" y="0" font-size="6.7" fill="#b8b8c4" stroke="#b8b8c4" stroke-width="0.18" text-anchor="start" transform="translate(381.30 506.70) scale(0.94 1)" >diffusion</text>
<line x1="413.00" y1="504.40" x2="420.20" y2="504.40" stroke="#fade2a" stroke-width="1.6" stroke-linecap="round"/>
<text x="0" y="0" font-size="6.7" fill="#b8b8c4" stroke="#b8b8c4" stroke-width="0.18" text-anchor="start" transform="translate(424.00 506.70) scale(0.94 1)" >whisper</text>
<line x1="733.50" y1="317.00" x2="733.50" y2="487.50" stroke="#2a2d31" stroke-width="0.6" />
<line x1="785.20" y1="317.00" x2="785.20" y2="487.50" stroke="#2a2d31" stroke-width="0.6" />
<line x1="836.90" y1="317.00" x2="836.90" y2="487.50" stroke="#2a2d31" stroke-width="0.6" />
<line x1="888.60" y1="317.00" x2="888.60" y2="487.50" stroke="#2a2d31" stroke-width="0.6" />
<line x1="940.30" y1="317.00" x2="940.30" y2="487.50" stroke="#2a2d31" stroke-width="0.6" />
<text x="0" y="0" font-size="6.7" fill="#cdcdd7" stroke="#cdcdd7" stroke-width="0.18" text-anchor="middle" transform="translate(733.50 495.30) scale(0.9 1)" >13:33:00</text>
<text x="0" y="0" font-size="6.7" fill="#cdcdd7" stroke="#cdcdd7" stroke-width="0.18" text-anchor="middle" transform="translate(785.20 495.30) scale(0.9 1)" >13:34:00</text>
<text x="0" y="0" font-size="6.7" fill="#cdcdd7" stroke="#cdcdd7" stroke-width="0.18" text-anchor="middle" transform="translate(836.90 495.30) scale(0.9 1)" >13:35:00</text>
<text x="0" y="0" font-size="6.7" fill="#cdcdd7" stroke="#cdcdd7" stroke-width="0.18" text-anchor="middle" transform="translate(888.60 495.30) scale(0.9 1)" >13:36:00</text>
<text x="0" y="0" font-size="6.7" fill="#cdcdd7" stroke="#cdcdd7" stroke-width="0.18" text-anchor="middle" transform="translate(940.30 495.30) scale(0.9 1)" >13:37:00</text>
<line x1="729.80" y1="503.80" x2="737.00" y2="503.80" stroke="#73bf69" stroke-width="1.6" stroke-linecap="round"/>
<text x="0" y="0" font-size="6.7" fill="#7c7c86" stroke="#7c7c86" stroke-width="0.18" text-anchor="start" transform="translate(740.80 506.10) scale(0.94 1)" >diffusion</text>
<line x1="771.80" y1="503.80" x2="779.00" y2="503.80" stroke="#fade2a" stroke-width="1.6" stroke-linecap="round"/>
<text x="0" y="0" font-size="6.7" fill="#7c7c86" stroke="#7c7c86" stroke-width="0.18" text-anchor="start" transform="translate(782.80 506.10) scale(0.94 1)" >whisper</text>
<text x="155.75" y="72.15" font-size="7.28" fill="#d4d4de" text-anchor="middle" font-weight="normal" stroke="#d4d4de" stroke-width="0.25">Number of Request Gateway received</text>
<text x="395.25" y="72.15" font-size="7.28" fill="#d4d4de" text-anchor="middle" font-weight="normal" stroke="#d4d4de" stroke-width="0.25">Time elapsed between receiving and responding in the Gateway</text>
<text x="634.75" y="72.15" font-size="7.28" fill="#d4d4de" text-anchor="middle" font-weight="normal" stroke="#d4d4de" stroke-width="0.25">Number of Request processed by the Gateway per minute</text>
<text x="874.25" y="72.15" font-size="7.28" fill="#d4d4de" text-anchor="middle" font-weight="normal" stroke="#d4d4de" stroke-width="0.25">Failed requests returned by the Gateway per minute</text>
<text x="195.60" y="310.35" font-size="7.28" fill="#d4d4de" text-anchor="middle" font-weight="normal" stroke="#d4d4de" stroke-width="0.25">Number of Documents processed</text>
<text x="535.00" y="310.25" font-size="7.28" fill="#d4d4de" text-anchor="middle" font-weight="normal" stroke="#d4d4de" stroke-width="0.25">Total Number of Request processed over time</text>
<text x="854.30" y="310.25" font-size="7.28" fill="#d4d4de" text-anchor="middle" font-weight="normal" stroke="#d4d4de" stroke-width="0.25">Failed requests returned by the Executor per minute</text>
<text x="46.80" y="51.80" font-size="8.46" fill="#d8d8e0" text-anchor="start" font-weight="normal" stroke="#d8d8e0" stroke-width="0.4">Gateway Metrics</text>
<text x="46.80" y="289.60" font-size="8.46" fill="#d8d8e0" text-anchor="start" font-weight="normal" stroke="#d8d8e0" stroke-width="0.4">Executors Metrics</text>
<polyline points="40.30,48.30 41.80,49.80 43.30,48.30" stroke="#d8d8e0" stroke-width="1.0" fill="none" stroke-linejoin="round" />
<polyline points="40.30,286.10 41.80,287.60 43.30,286.10" stroke="#d8d8e0" stroke-width="1.0" fill="none" stroke-linejoin="round" />
<text x="51.70" y="21.40" font-size="9.7" fill="#c8c8d2" text-anchor="start" font-weight="normal" >public</text>
<text x="81.50" y="21.40" font-size="9.4" fill="#d8d8e2" text-anchor="start" font-weight="normal" >/ Flow monitor</text>
<defs><linearGradient id="gl" x1="0.2" y1="0" x2="0.5" y2="1"><stop offset="0" stop-color="#ec5529"/><stop offset="0.45" stop-color="#f38a2c"/><stop offset="1" stop-color="#fbcb2b"/></linearGradient></defs>
<polygon points="20.37,17.90 20.15,18.27 19.72,18.59 19.40,18.88 19.33,19.19 19.23,19.51 19.12,19.81 18.98,20.11 18.83,20.40 18.94,20.87 19.02,21.37 18.92,21.78 18.65,22.05 18.23,22.16 17.71,22.08 17.28,22.06 17.00,22.23 16.71,22.38 16.41,22.52 16.11,22.63 15.79,22.73 15.54,23.14 15.24,23.55 14.88,23.77 14.50,23.77 14.13,23.55 13.81,23.12 13.52,22.80 13.21,22.73 12.89,22.63 12.59,22.52 12.29,22.38 12.00,22.23 11.53,22.34 11.03,22.42 10.62,22.32 10.35,22.05 10.24,21.63 10.32,21.11 10.34,20.68 10.17,20.40 10.02,20.11 9.88,19.81 9.77,19.51 9.67,19.19 9.26,18.94 8.85,18.64 8.63,18.28 8.63,17.90 8.85,17.53 9.28,17.21 9.60,16.92 9.67,16.61 9.77,16.29 9.88,15.99 10.02,15.69 10.17,15.40 10.06,14.93 9.98,14.43 10.08,14.02 10.35,13.75 10.77,13.64 11.29,13.72 11.72,13.74 12.00,13.57 12.29,13.42 12.59,13.28 12.89,13.17 13.21,13.07 13.46,12.66 13.76,12.25 14.12,12.03 14.50,12.03 14.87,12.25 15.19,12.68 15.48,13.00 15.79,13.07 16.11,13.17 16.41,13.28 16.71,13.42 17.00,13.57 17.47,13.46 17.97,13.38 18.38,13.48 18.65,13.75 18.76,14.17 18.68,14.69 18.66,15.12 18.83,15.40 18.98,15.69 19.12,15.99 19.23,16.29 19.33,16.61 19.74,16.86 20.15,17.16 20.37,17.52" fill="url(#gl)"/>
<circle cx="14.8" cy="18.2" r="3.4" fill="#24150d"/>
<path d="M 16.5 17.299999999999997 A 1.8 1.8 0 1 0 16.1 19.5" stroke="#ec8e3c" stroke-width="0.9" fill="none"/>
<circle cx="28.9" cy="30.3" r="6" fill="#1f2125"/>
<polyline points="28.00,28.10 30.40,30.40 28.00,32.70" stroke="#e4e4ea" stroke-width="1.1" fill="none" stroke-linejoin="round" />
<circle cx="13.9" cy="42.4" r="3.85" stroke="#a9a9b3" stroke-width="1.2" fill="none"/>
<line x1="16.80" y1="45.30" x2="19.50" y2="48.00" stroke="#a9a9b3" stroke-width="1.3" stroke-linecap="round"/>
<polygon points="14.50,63.80 15.94,66.72 19.16,67.19 16.83,69.46 17.38,72.66 14.50,71.15 11.62,72.66 12.17,69.46 9.84,67.19 13.06,66.72" stroke="#a9a9b3" stroke-width="1.25" fill="none" stroke-linejoin="round"/>
<defs><linearGradient id="ab" x1="0" y1="0" x2="0" y2="1"><stop offset="0" stop-color="#f2874a"/><stop offset="1" stop-color="#e9753a"/></linearGradient></defs>
<rect x="4.30" y="87.30" width="1.90" height="12.60" fill="url(#ab)" rx="0.6"/>
<rect x="9.75" y="88.55" width="3.70" height="3.70" fill="none" stroke="#dcdce4" stroke-width="1.5" rx="1"/>
<rect x="15.35" y="88.55" width="3.70" height="3.70" fill="none" stroke="#dcdce4" stroke-width="1.5" rx="1"/>
<rect x="9.75" y="94.15" width="3.70" height="3.70" fill="none" stroke="#dcdce4" stroke-width="1.5" rx="1"/>
<rect x="15.35" y="94.15" width="3.70" height="3.70" fill="none" stroke="#dcdce4" stroke-width="1.5" rx="1"/>
<path d="M 10.4 120.5 Q 12.1 119.6 12.1 117.4 A 2.4 2.4 0 0 1 16.9 117.4 Q 16.9 119.6 18.6 120.5 Z" stroke="#a9a9b3" stroke-width="1.2" fill="none" stroke-linejoin="round"/>
<path d="M 13.4 121.7 A 1.1 1.1 0 0 0 15.6 121.7" stroke="#a9a9b3" stroke-width="1.1" fill="none"/>
<line x1="14.50" y1="113.20" x2="14.50" y2="114.60" stroke="#a9a9b3" stroke-width="1.1" stroke-linecap="round"/>
<rect x="39.10" y="14.40" width="3.20" height="3.20" fill="none" stroke="#c8c8d2" stroke-width="0.85" rx="0.9"/>
<rect x="43.60" y="14.40" width="3.20" height="3.20" fill="none" stroke="#c8c8d2" stroke-width="0.85" rx="0.9"/>
<rect x="39.10" y="18.90" width="3.20" height="3.20" fill="none" stroke="#c8c8d2" stroke-width="0.85" rx="0.9"/>
<rect x="43.60" y="18.90" width="3.20" height="3.20" fill="none" stroke="#c8c8d2" stroke-width="0.85" rx="0.9"/>
<circle cx="147.2" cy="18.3" r="1.35" stroke="#c8c8d2" stroke-width="0.95" fill="none"/>
<circle cx="152.2" cy="15.8" r="1.35" stroke="#c8c8d2" stroke-width="0.95" fill="none"/>
<circle cx="152.3" cy="20.8" r="1.35" stroke="#c8c8d2" stroke-width="0.95" fill="none"/>
<line x1="148.40" y1="17.70" x2="151.00" y2="16.40" stroke="#c8c8d2" stroke-width="0.9" />
<line x1="148.40" y1="18.90" x2="151.10" y2="20.20" stroke="#c8c8d2" stroke-width="0.9" />
<rect x="824.00" y="10.00" width="105.50" height="16.50" fill="#181a1e" stroke="#25272c" stroke-width="0.8" rx="1.5"/>
<rect x="932.50" y="10.00" width="37.20" height="16.50" fill="#181a1e" stroke="#25272c" stroke-width="0.8" rx="1.5"/>
<rect x="974.00" y="10.00" width="18.00" height="16.50" fill="#181a1e" stroke="#25272c" stroke-width="0.8" rx="1.5"/>
<circle cx="834" cy="18.4" r="3.6" stroke="#a9a9b3" stroke-width="0.9" fill="none"/>
<polyline points="834.00,16.30 834.00,18.60 835.40,19.60" stroke="#a9a9b3" stroke-width="0.9" fill="none" stroke-linejoin="round" />
<text x="843.20" y="20.90" font-size="7.5" fill="#c4c4ce" text-anchor="start" font-weight="normal" >Last 5 minutes</text>
<polyline points="900.80,17.40 902.10,18.70 903.40,17.40" stroke="#a9a9b3" stroke-width="0.9" fill="none" stroke-linejoin="round" />
<circle cx="918.6" cy="18.1" r="3.1" stroke="#a9a9b3" stroke-width="0.9" fill="none"/>
<line x1="917.10" y1="18.10" x2="920.10" y2="18.10" stroke="#a9a9b3" stroke-width="0.9" />
<line x1="920.90" y1="20.40" x2="922.60" y2="22.10" stroke="#a9a9b3" stroke-width="1" />
<path d="M 940.95 15.17 A 3.5 3.5 0 0 1 945.57 20.21" stroke="#a9a9b3" stroke-width="1.05" fill="none"/>
<path d="M 944.45 21.23 A 3.5 3.5 0 0 1 939.83 16.19" stroke="#a9a9b3" stroke-width="1.05" fill="none"/>
<polyline points="947.07,19.91 945.57,20.51 944.47,19.21" stroke="#a9a9b3" stroke-width="0.95" fill="none" stroke-linejoin="round" />
<polyline points="938.33,16.49 939.83,15.89 940.93,17.19" stroke="#a9a9b3" stroke-width="0.95" fill="none" stroke-linejoin="round" />
<polyline points="959.10,17.40 960.40,18.70 961.70,17.40" stroke="#a9a9b3" stroke-width="0.9" fill="none" stroke-linejoin="round" />
<rect x="979.3" y="14.5" width="6.6" height="4.6" rx="0.8" stroke="#a9a9b3" stroke-width="0.9" fill="none"/>
<line x1="979.30" y1="17.20" x2="985.90" y2="17.20" stroke="#a9a9b3" stroke-width="0.8" />
<polyline points="980.80,19.20 982.60,21.50 984.40,19.20" stroke="#a9a9b3" stroke-width="0.9" fill="none" stroke-linejoin="round" />
</svg>

<div class="wm">@稀土掘金技术社区</div>
</body></html>
